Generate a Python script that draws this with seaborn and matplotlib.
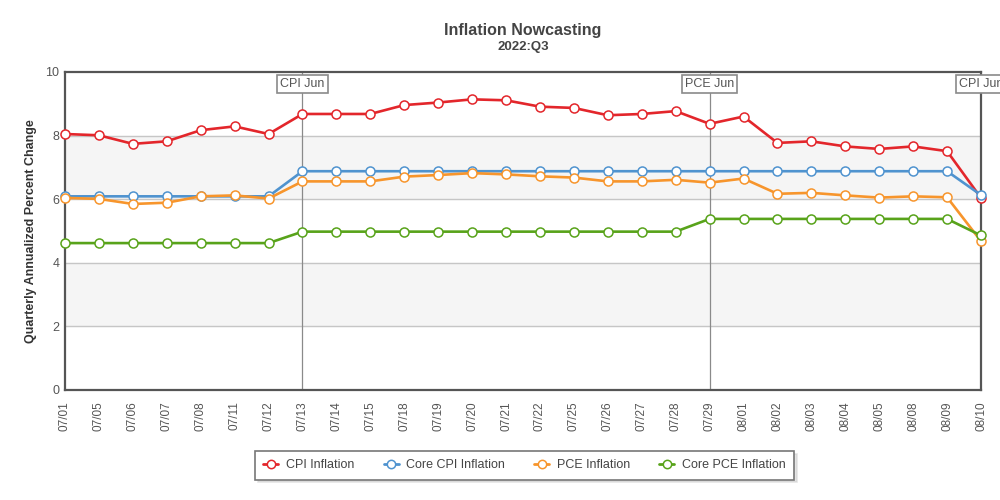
import matplotlib
matplotlib.use("Agg")
import matplotlib.pyplot as plt
import seaborn as sns
import pandas as pd
from matplotlib.lines import Line2D

dates = ["07/01", "07/05", "07/06", "07/07", "07/08", "07/11", "07/12",
         "07/13", "07/14", "07/15", "07/18", "07/19", "07/20", "07/21",
         "07/22", "07/25", "07/26", "07/27", "07/28", "07/29", "08/01",
         "08/02", "08/03", "08/04", "08/05", "08/08", "08/09", "08/10"]

cpi = [8.05, 8.01, 7.74, 7.82, 8.17, 8.29, 8.05, 8.68, 8.68, 8.68, 8.96,
       9.04, 9.14, 9.11, 8.91, 8.87, 8.64, 8.68, 8.77, 8.37, 8.60, 7.77,
       7.82, 7.66, 7.58, 7.66, 7.51, 6.04]
core_cpi = [6.09, 6.09, 6.09, 6.09, 6.09, 6.09, 6.09, 6.88, 6.88, 6.88,
            6.88, 6.88, 6.88, 6.88, 6.88, 6.88, 6.88, 6.88, 6.88, 6.88,
            6.88, 6.88, 6.88, 6.88, 6.88, 6.88, 6.88, 6.13]
pce = [6.04, 6.01, 5.85, 5.89, 6.09, 6.12, 6.02, 6.56, 6.56, 6.56, 6.71,
       6.76, 6.82, 6.78, 6.72, 6.68, 6.56, 6.56, 6.61, 6.52, 6.65, 6.17,
       6.20, 6.12, 6.05, 6.09, 6.06, 4.68]
core_pce = [4.62, 4.62, 4.62, 4.62, 4.62, 4.62, 4.62, 4.98, 4.98, 4.98,
            4.98, 4.98, 4.98, 4.98, 4.98, 4.98, 4.98, 4.98, 4.98, 5.38,
            5.38, 5.38, 5.38, 5.38, 5.38, 5.38, 5.38, 4.86]

series_names = ["CPI Inflation", "Core CPI Inflation", "PCE Inflation", "Core PCE Inflation"]
colors = ["#e3262b", "#4f93cf", "#f7952c", "#58a31a"]

release_dates = ["07/13", "07/29", "08/10"]
release_labels = ["CPI Jun", "PCE Jun", "CPI Jun"]

df = pd.DataFrame({"date": dates, "CPI Inflation": cpi,
                   "Core CPI Inflation": core_cpi, "PCE Inflation": pce,
                   "Core PCE Inflation": core_pce})
df["pos"] = range(len(dates))

sns.set_style("white")
plt.rcParams["font.family"] = ["Liberation Sans", "DejaVu Sans"]

fig = plt.figure(figsize=(10, 5), dpi=100)
ax = fig.add_axes([0.065, 0.22, 0.916, 0.636])

# shaded bands and grid
for lo, hi in [(2, 4), (6, 8)]:
    ax.axhspan(lo, hi, color="#f5f5f5", zorder=0)
for y in [2, 4, 6, 8]:
    ax.axhline(y, color="#c6c6c6", lw=1, zorder=0.5)

# release markers (the last box runs off the right edge, as in the original)
for d, lab in zip(release_dates, release_labels):
    xi = dates.index(d)
    ax.axvline(xi, color="#8a8a8a", lw=0.9, zorder=1)
    ax.text(xi, 9.62, lab, ha="center", va="center", fontsize=9, color="#555555",
            bbox=dict(boxstyle="square,pad=0.25", fc="white", ec="#8a8a8a", lw=1.2),
            zorder=6, clip_on=False)

for name, col in zip(series_names, colors):
    sns.lineplot(data=df, x="pos", y=name, ax=ax, color=col, lw=1.9,
                 marker="o", markersize=6.5, markerfacecolor="white",
                 markeredgecolor=col, markeredgewidth=1.1, clip_on=False,
                 zorder=3)

ax.set_xlim(0, len(dates) - 1)
ax.set_ylim(0, 10)
ax.set_xticks(df["pos"])
ax.set_xticklabels(dates, rotation=90, fontsize=8.5, color="#555555")
ax.set_yticks([0, 2, 4, 6, 8, 10])
ax.set_yticklabels(["0", "2", "4", "6", "8", "10"], fontsize=9, color="#555555")
ax.tick_params(axis="x", length=0, pad=8)
ax.tick_params(axis="y", length=0, pad=4)
ax.set_xlabel("")
ax.set_ylabel("Quarterly Annualized Percent Change", fontsize=9, fontweight="bold",
              color="#333333", labelpad=6)
for sp in ax.spines.values():
    sp.set_visible(True)
    sp.set_color("#555555")
    sp.set_linewidth(1.6)

fig.text(0.523, 0.94, "Inflation Nowcasting", ha="center", va="center",
         fontsize=11.5, fontweight="bold", color="#444444")
fig.text(0.523, 0.906, "2022:Q3", ha="center", va="center",
         fontsize=9.5, fontweight="bold", color="#444444")

handles = [Line2D([], [], color=c, lw=2, marker="o", markersize=6,
                  markerfacecolor="white", markeredgecolor=c, markeredgewidth=1.1)
           for c in colors]
leg = fig.legend(handles, series_names, loc="center", ncol=4,
                 bbox_to_anchor=(0.249, 0.038, 0.551, 0.062), mode="expand",
                 frameon=True, fancybox=False, fontsize=9, handlelength=1.2,
                 handletextpad=0.6, borderpad=0.65, edgecolor="#777777",
                 shadow={"color": "#cccccc", "ox": 2, "oy": -2})
leg.get_frame().set_linewidth(1.2)
for t in leg.get_texts():
    t.set_color("#444444")

fig.savefig("out.png", dpi=100)
